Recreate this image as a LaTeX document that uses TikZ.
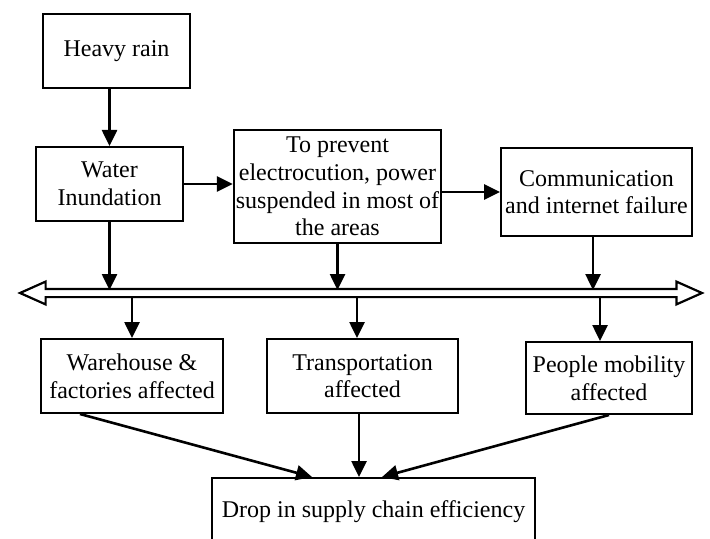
\documentclass[tikz,border=0pt]{standalone}
\usepackage{fontspec}
\setmainfont{Liberation Serif}
\usepackage{tikz}
\usetikzlibrary{shapes.arrows, arrows.meta, positioning, calc}
\tikzset{
    cbox/.style={rectangle, draw=black, line width=1pt, fill=white,
                 align=center, inner sep=1pt,
                 font=\fontsize{12}{13.8}\selectfont},
    barrow/.style={double arrow, draw=black, line width=1.1pt, inner sep=0pt,
                 inner ysep=1.5pt, minimum height=341pt,
                 double arrow head extend=3.65pt, double arrow tip angle=48},
    arr/.style={-{Triangle[length=8pt,width=7.5pt]}, line width=1.3pt, draw=black}
}

\begin{document}
\begin{tikzpicture}[x=0.5pt, y=-0.5pt]
\useasboundingbox (0,0) rectangle (710,539);
\clip (0,0) rectangle (710,539);

\node[cbox, minimum width=73.5pt, minimum height=37pt]   at (116.5,51)  (rain)  {Heavy rain};
\node[cbox, minimum width=73.5pt, minimum height=37pt]   at (109.5,184) (flood) {Water\\Inundation};
\node[cbox, minimum width=103.5pt, minimum height=56.5pt] at (337.5,186.5) (power) {To prevent\\electrocution, power\\suspended in most of\\the areas};
\node[cbox, minimum width=95.5pt, minimum height=44pt]   at (596.5,192) (comm)  {Communication\\and internet failure};

% the two-headed bar
\node[barrow] at (361,293) (bar) {};
\coordinate (bartop) at ([yshift=1.5pt]bar.center);
\coordinate (barbot) at ([yshift=-1.5pt]bar.center);

\node[cbox, minimum width=91pt, minimum height=37pt]     at (132,376)   (ware)   {Warehouse \&\\factories affected};
\node[cbox, minimum width=95.5pt, minimum height=37pt]   at (362.5,376) (trans)  {Transportation\\affected};
\node[cbox, minimum width=83pt, minimum height=36pt]     at (609,378)   (people) {People mobility\\affected};
\node[cbox, minimum width=161.5pt, minimum height=34pt]  at (373.5,512) (drop)   {Drop in supply chain efficiency};

\draw[arr] (rain.south -| flood.north) -- (flood.north);
\draw[arr] (flood.east) -- (flood.east -| power.west);
\draw[arr] (power.east |- comm.west) -- (comm.west);

\draw[arr] (flood.south) -- (flood.south |- bartop);
\draw[arr] (power.south) -- (power.south |- bartop);
\draw[arr] ([xshift=-1.75pt]comm.south) -- ([xshift=-1.75pt]comm.south |- bartop);

\draw[arr] (ware.north |- barbot) -- (ware.north);
\draw[arr] ([xshift=-2.75pt]trans.north |- barbot) -- ([xshift=-2.75pt]trans.north);
\draw[arr] ([xshift=-4.5pt]people.north |- barbot) -- ([xshift=-4.5pt]people.north);

\draw[arr] ([xshift=-26pt]ware.south) -- ([xshift=-30.75pt]drop.north);
\draw[arr] ([xshift=-1.75pt]trans.south) -- ([xshift=-1.75pt]trans.south |- drop.north);
\draw[arr] (people.south) -- ([xshift=4.25pt]drop.north);
\end{tikzpicture}
\end{document}
